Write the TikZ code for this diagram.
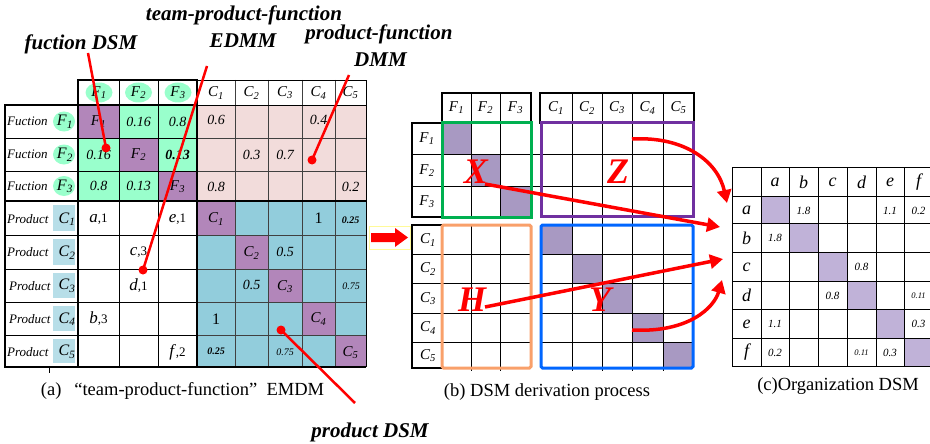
\documentclass[tikz,border=0pt]{standalone}
\usepackage{fontspec}
\setmainfont{Liberation Serif}
\usetikzlibrary{arrows.meta}
\definecolor{cgreen}{HTML}{99FFCC}
\definecolor{cpurp}{HTML}{B286BA}
\definecolor{cpink}{HTML}{F2DCDB}
\definecolor{cteal}{HTML}{92CDDC}
\definecolor{clblue}{HTML}{B7DEE8}
\definecolor{mpurp}{HTML}{A899C2}
\definecolor{rpurp}{HTML}{C0B2D8}
\definecolor{xgreen}{HTML}{00B050}
\definecolor{zpurp}{HTML}{7030A0}
\definecolor{horange}{HTML}{F9A06A}
\definecolor{yblue}{HTML}{0066FF}
\newcommand{\ix}[2]{\textit{#1}\textsubscript{\textit{#2}}}
\newcommand{\ent}[2]{{\fontsize{17}{17}\selectfont\textit{#1}}{\fontsize{13}{13}\selectfont,#2}}
\tikzset{
 every node/.style={inner sep=0pt},
 cellnum/.style={font=\fontsize{14}{14}\selectfont\itshape},
 cellone/.style={font=\fontsize{16}{16}\selectfont},
 cellbf/.style={font=\fontsize{14}{14}\selectfont\bfseries\itshape},
 cellsm/.style={font=\fontsize{10}{10}\selectfont\itshape},
 cellsmb/.style={font=\fontsize{10}{10}\selectfont\bfseries\itshape},
 hdr/.style={font=\fontsize{15}{15}\selectfont},
 lblF/.style={font=\fontsize{16}{16}\selectfont},
 rowlbl/.style={font=\fontsize{13}{13}\selectfont\itshape, anchor=west},
 toplbl/.style={font=\fontsize{21}{21}\selectfont\bfseries\itshape, anchor=base},
 capt/.style={font=\fontsize{18.5}{18.5}\selectfont, anchor=base},
 bigl/.style={font=\fontsize{36}{36}\selectfont\bfseries\itshape, text=red},
 rhdr/.style={font=\fontsize{18}{18}\selectfont\itshape},
 rnum/.style={font=\fontsize{11}{11}\selectfont\itshape},
 rtiny/.style={font=\fontsize{8.5}{8.5}\selectfont\itshape},
 ptr/.style={red, line width=2.5pt},
 redarrow/.style={red, line width=3.5pt, -{Triangle[length=13pt,width=14pt]}},
 gridl/.style={black, line width=0.8pt},
 gridc/.style={black!75, line width=0.8pt},
 frame/.style={black, line width=1.6pt},
}
\begin{document}
\begin{tikzpicture}[x=1pt,y=-1pt]
\useasboundingbox (0,0) rectangle (930,444);
% ================= (a) left matrix =================
\fill[cgreen] (78,105) rectangle (197,201);
\fill[cpink] (197,105) rectangle (366,201);
\fill[cteal] (197,201) rectangle (366,367);
\foreach \a/\b/\c/\d in {78/105/119/138, 119/138/158/171, 158/171/197/201, 197/201/235/235, 235/235/268/269, 268/269/302/302, 302/302/335/335, 335/335/366/367}
  \fill[cpurp] (\a,\b) rectangle (\c,\d);
% label column decorations
\foreach \y in {121.5,154.5,186} \fill[cgreen] (64,\y) ellipse [x radius=11pt, y radius=10pt];
\foreach \t/\b in {205/231, 239/265, 273/298, 306/331, 339/363} \fill[clblue] (53,\t) rectangle (75,\b);
\foreach \x in {99,138.5,178} \fill[cgreen] (\x,92.5) ellipse [x radius=13.5pt, y radius=10pt];
% grid
\foreach \x in {119,158} \draw[gridl] (\x,80) -- (\x,367);
\foreach \x in {235,268,302,335} \draw[gridc] (\x,80) -- (\x,367);
\foreach \y in {138,171,235,269,302,335} \draw[gridl] (5,\y) -- (197,\y);
\foreach \y in {138,171,235,269,302,335} \draw[gridc] (197,\y) -- (366,\y);
\draw[gridl] (197,80) -- (366,80) -- (366,367);
\draw[gridl] (78,105) -- (366,105);
\draw[frame] (78,80) rectangle (197,105);
\draw[frame] (5,105) rectangle (78,367);
\draw[frame] (5,201) -- (366,201);
\draw[frame] (197,105) -- (197,367);
\draw[frame] (5,367) -- (366,367);
\draw[gridl] (49,367) -- (49,373);
% headers
\node[hdr] (hF1) at (99,93) {\ix{F}{1}};
\node[hdr] (hF2) at (138.5,93) {\ix{F}{2}};
\node[hdr] (hF3) at (178,93) {\ix{F}{3}};
\node[hdr] (hC1) at (216,93) {\ix{C}{1}};
\node[hdr] (hC2) at (251.5,93) {\ix{C}{2}};
\node[hdr] (hC3) at (285,93) {\ix{C}{3}};
\node[hdr] (hC4) at (318.5,93) {\ix{C}{4}};
\node[hdr] (hC5) at (350.5,93) {\ix{C}{5}};
% row labels
\node[rowlbl] (rf1) at (7,121.5) {Fuction};
\node[rowlbl] (rf2) at (7,154.5) {Fuction};
\node[rowlbl] (rf3) at (7,186) {Fuction};
\node[lblF] (rF1) at (65,122) {\ix{F}{1}};
\node[lblF] (rF2) at (65,155) {\ix{F}{2}};
\node[lblF] (rF3) at (65,186.5) {\ix{F}{3}};
\node[rowlbl] (rp1) at (7,219) {Product};
\node[rowlbl] (rp2) at (7,252.5) {Product};
\node[rowlbl] (rp3) at (9,286) {Product};
\node[rowlbl] (rp4) at (9,319) {Product};
\node[rowlbl] (rp5) at (7,352) {Product};
\node[lblF] (rC1) at (67,219) {\ix{C}{1}};
\node[lblF] (rC2) at (67,252.5) {\ix{C}{2}};
\node[lblF] (rC3) at (67,286) {\ix{C}{3}};
\node[lblF] (rC4) at (67,319) {\ix{C}{4}};
\node[lblF] (rC5) at (67,352) {\ix{C}{5}};
% row F1
\node[hdr] (a11) at (98.5,122) {\ix{F}{1}};
\node[cellnum] (a12) at (138.5,122) {0.16};
\node[cellnum] (a13) at (177.5,122) {0.8};
\node[cellnum] (a14) at (216,120) {0.6};
\node[cellnum] (a17) at (318.5,120) {0.4};
% row F2
\node[cellnum] (a21) at (98.5,155) {0.16};
\node[hdr] (a22) at (138.5,155) {\ix{F}{2}};
\node[cellbf] (a23) at (177.5,155) {0.13};
\node[cellnum] (a25) at (251.5,155) {0.3};
\node[cellnum] (a26) at (285,155) {0.7};
% row F3
\node[cellnum] (a31) at (98.5,186) {0.8};
\node[cellnum] (a32) at (138.5,186) {0.13};
\node[hdr] (a33) at (177.5,187) {\ix{F}{3}};
\node[cellnum] (a34) at (216,187) {0.8};
\node[cellnum] (a38) at (350.5,187) {0.2};
% row C1
\node (a41) at (98.5,219) {\ent{a}{1}};
\node (a43) at (177.5,219) {\ent{e}{1}};
\node[hdr] (a44) at (216,219) {\ix{C}{1}};
\node[cellone] (a47) at (318.5,218) {1};
\node[cellsmb] (a48) at (350.5,220) {0.25};
% row C2
\node (a52) at (138.5,252) {\ent{c}{3}};
\node[hdr] (a55) at (251.5,253) {\ix{C}{2}};
\node[cellnum] (a56) at (285,252) {0.5};
% row C3
\node (a62) at (138.5,286) {\ent{d}{1}};
\node[cellnum] (a65) at (251.5,285) {0.5};
\node[hdr] (a66) at (285,287) {\ix{C}{3}};
\node[cellsm] (a68) at (351,286) {0.75};
% row C4
\node (a71) at (98.5,319) {\ent{b}{3}};
\node[cellone] (a74) at (216,319) {1};
\node[hdr] (a77) at (318.5,319) {\ix{C}{4}};
% row C5
\node (a83) at (177.5,352) {\ent{f}{2}};
\node[cellsmb] (a84) at (216,351) {0.25};
\node[cellsm] (a86) at (285,352) {0.75};
\node[hdr] (a88) at (350.5,353) {\ix{C}{5}};
% pointer labels
\node[toplbl] (lfd) at (81,50) {fuction DSM};
\node[toplbl] (ltp) at (244,20.5) {team-product-function};
\node[toplbl] (led) at (243,47.5) {EDMM};
\node[toplbl] (lpf) at (379,39.5) {product-function};
\node[toplbl] (ldm) at (380.5,66.5) {DMM};
\node[toplbl] (lpd) at (370,437) {product DSM};
\coordinate (p1s) at (88,53);  \coordinate (p1e) at (106,148);
\coordinate (p2s) at (207,66); \coordinate (p2e) at (143,270);
\coordinate (p3s) at (349,75); \coordinate (p3e) at (312,160);
\coordinate (p4s) at (355,403); \coordinate (p4e) at (281,330);
\draw[ptr] (p1s) -- (p1e); \fill[red] (p1e) circle (4.5pt);
\draw[ptr] (p2s) -- (p2e); \fill[red] (p2e) circle (4.5pt);
\draw[ptr] (p3s) -- (p3e); \fill[red] (p3e) circle (4.5pt);
\draw[ptr] (p4s) -- (p4e); \fill[red] (p4e) circle (4.5pt);
\node[capt] (capa) at (182.5,395) {(a)\hspace{0.7em}“team-product-function”\hspace{0.5em}EMDM};
% big arrow
\draw[yellow!40, line width=0.5pt] (369,226) rectangle (410,249);
\fill[red] (371,233) -- (395,233) -- (395,228) -- (408,237.5) -- (395,247) -- (395,242) -- (371,242) -- cycle;
% ================= (b) middle =================
\foreach \a/\b/\c/\d in {442/123/471/154, 471/154/500/186, 500/186/531/217, 540/225/572/254, 572/254/602/283, 602/283/632/313, 632/313/663/342, 663/342/694/368}
  \fill[mpurp] (\a,\b) rectangle (\c,\d);
\foreach \x in {471,500} {\draw[gridl] (\x,93) -- (\x,123); \draw[gridl] (\x,123) -- (\x,217); \draw[gridl] (\x,225) -- (\x,371);}
\foreach \x in {572,602,632,663} {\draw[gridl] (\x,93) -- (\x,123); \draw[gridl] (\x,123) -- (\x,371);}
\foreach \y in {154,186} \draw[gridl] (412,\y) -- (694,\y);
\foreach \y in {254,283,313,342} {\draw[gridl] (412,\y) -- (531,\y); \draw[gridl] (540,\y) -- (694,\y);}
\draw[black, line width=2pt] (442,93) rectangle (531,123);
\draw[black, line width=2pt] (540,93) rectangle (694,123);
\draw[black, line width=2pt] (442,123) -- (412,123) -- (412,217) -- (442,217);
\draw[black, line width=2pt] (442,225) -- (412,225) -- (412,368) -- (442,368);
\draw[xgreen, line width=3pt] (442,123) rectangle (531,217);
\draw[zpurp, line width=3pt] (541,123) rectangle (693,216);
\draw[horange, line width=3pt, rounded corners=1.5pt] (442,225) rectangle (531,368);
\draw[yblue, line width=3pt, rounded corners=1.5pt] (541,225) rectangle (693,368);
\node[hdr] (mF1) at (456.5,108) {\ix{F}{1}};
\node[hdr] (mF2) at (485.5,108) {\ix{F}{2}};
\node[hdr] (mF3) at (515.5,108) {\ix{F}{3}};
\node[hdr] (mC1) at (556,108) {\ix{C}{1}};
\node[hdr] (mC2) at (587,108) {\ix{C}{2}};
\node[hdr] (mC3) at (617,108) {\ix{C}{3}};
\node[hdr] (mC4) at (647.5,108) {\ix{C}{4}};
\node[hdr] (mC5) at (678.5,108) {\ix{C}{5}};
\node[hdr] (nF1) at (427,139) {\ix{F}{1}};
\node[hdr] (nF2) at (427,170.5) {\ix{F}{2}};
\node[hdr] (nF3) at (427,202) {\ix{F}{3}};
\node[hdr] (nC1) at (428,240) {\ix{C}{1}};
\node[hdr] (nC2) at (428,269) {\ix{C}{2}};
\node[hdr] (nC3) at (428,298.5) {\ix{C}{3}};
\node[hdr] (nC4) at (428,328) {\ix{C}{4}};
\node[hdr] (nC5) at (428,355.5) {\ix{C}{5}};
\node[bigl] (X) at (476,172) {X};
\node[bigl] (Z) at (618,172) {Z};
\node[bigl] (H) at (472,300) {H};
\node[bigl] (Y) at (600,300) {Y};
\node[capt] (capb) at (547,396) {(b) DSM derivation process};
% ================= (c) right matrix =================
\begin{scope}
\clip (700,150) rectangle (930,380);
\foreach \a/\b/\c/\d in {761/196/789/223, 789/223/818/252, 818/252/847/281, 847/281/876/309, 876/309/904/338, 904/338/934/366}
  \fill[rpurp] (\a,\b) rectangle (\c,\d);
\foreach \x in {732,761,789,818,847,876,904} \draw[black, line width=0.7pt] (\x,167) -- (\x,366);
\foreach \y in {167,196,223,252,281,309,338,366} \draw[black, line width=0.7pt] (732,\y) -- (934,\y);
\end{scope}
\node[rhdr] (ca) at (775,182) {a};
\node[rhdr] (cb) at (803.5,182) {b};
\node[rhdr] (cc) at (832.5,182) {c};
\node[rhdr] (cd) at (861.5,182) {d};
\node[rhdr] (ce) at (890,182) {e};
\node[rhdr] (cf) at (918.5,182) {f};
\node[rhdr] (ra) at (746.5,210) {a};
\node[rhdr] (rb) at (746.5,238) {b};
\node[rhdr] (rc) at (746.5,267) {c};
\node[rhdr] (rd) at (746.5,295.5) {d};
\node[rhdr] (re) at (746.5,324) {e};
\node[rhdr] (rf) at (746.5,352.5) {f};
\node[rnum] (v1) at (803.5,211) {1.8};
\node[rnum] (v2) at (890,211) {1.1};
\node[rnum] (v3) at (918.5,211) {0.2};
\node[rnum] (v4) at (775,238) {1.8};
\node[rnum] (v5) at (861.5,267) {0.8};
\node[rnum] (v6) at (832.5,295.5) {0.8};
\node[rtiny] (v7) at (918.5,295.5) {0.11};
\node[rnum] (v8) at (775,324) {1.1};
\node[rnum] (v9) at (918.5,324) {0.3};
\node[rnum] (v10) at (775,352.5) {0.2};
\node[rtiny] (v11) at (861.5,352.5) {0.11};
\node[rnum] (v12) at (890,352.5) {0.3};
\node[capt] (capc) at (838,390) {(c)Organization DSM};
% red derivation arrows
\coordinate (zs) at (632,139);
\coordinate (xs) at (485,184);
\coordinate (hs) at (485,307);
\coordinate (ys) at (632,330);
\coordinate (t1) at (727,203);
\coordinate (t2) at (720,227);
\coordinate (t3) at (723,259);
\coordinate (t4) at (722,280);
\draw[redarrow] (zs) .. controls (685,136) and (718,162) .. (t1);
\draw[redarrow] (xs) -- (t2);
\draw[redarrow] (hs) -- (t3);
\draw[redarrow] (ys) .. controls (688,333) and (714,308) .. (t4);
\end{tikzpicture}
\end{document}
